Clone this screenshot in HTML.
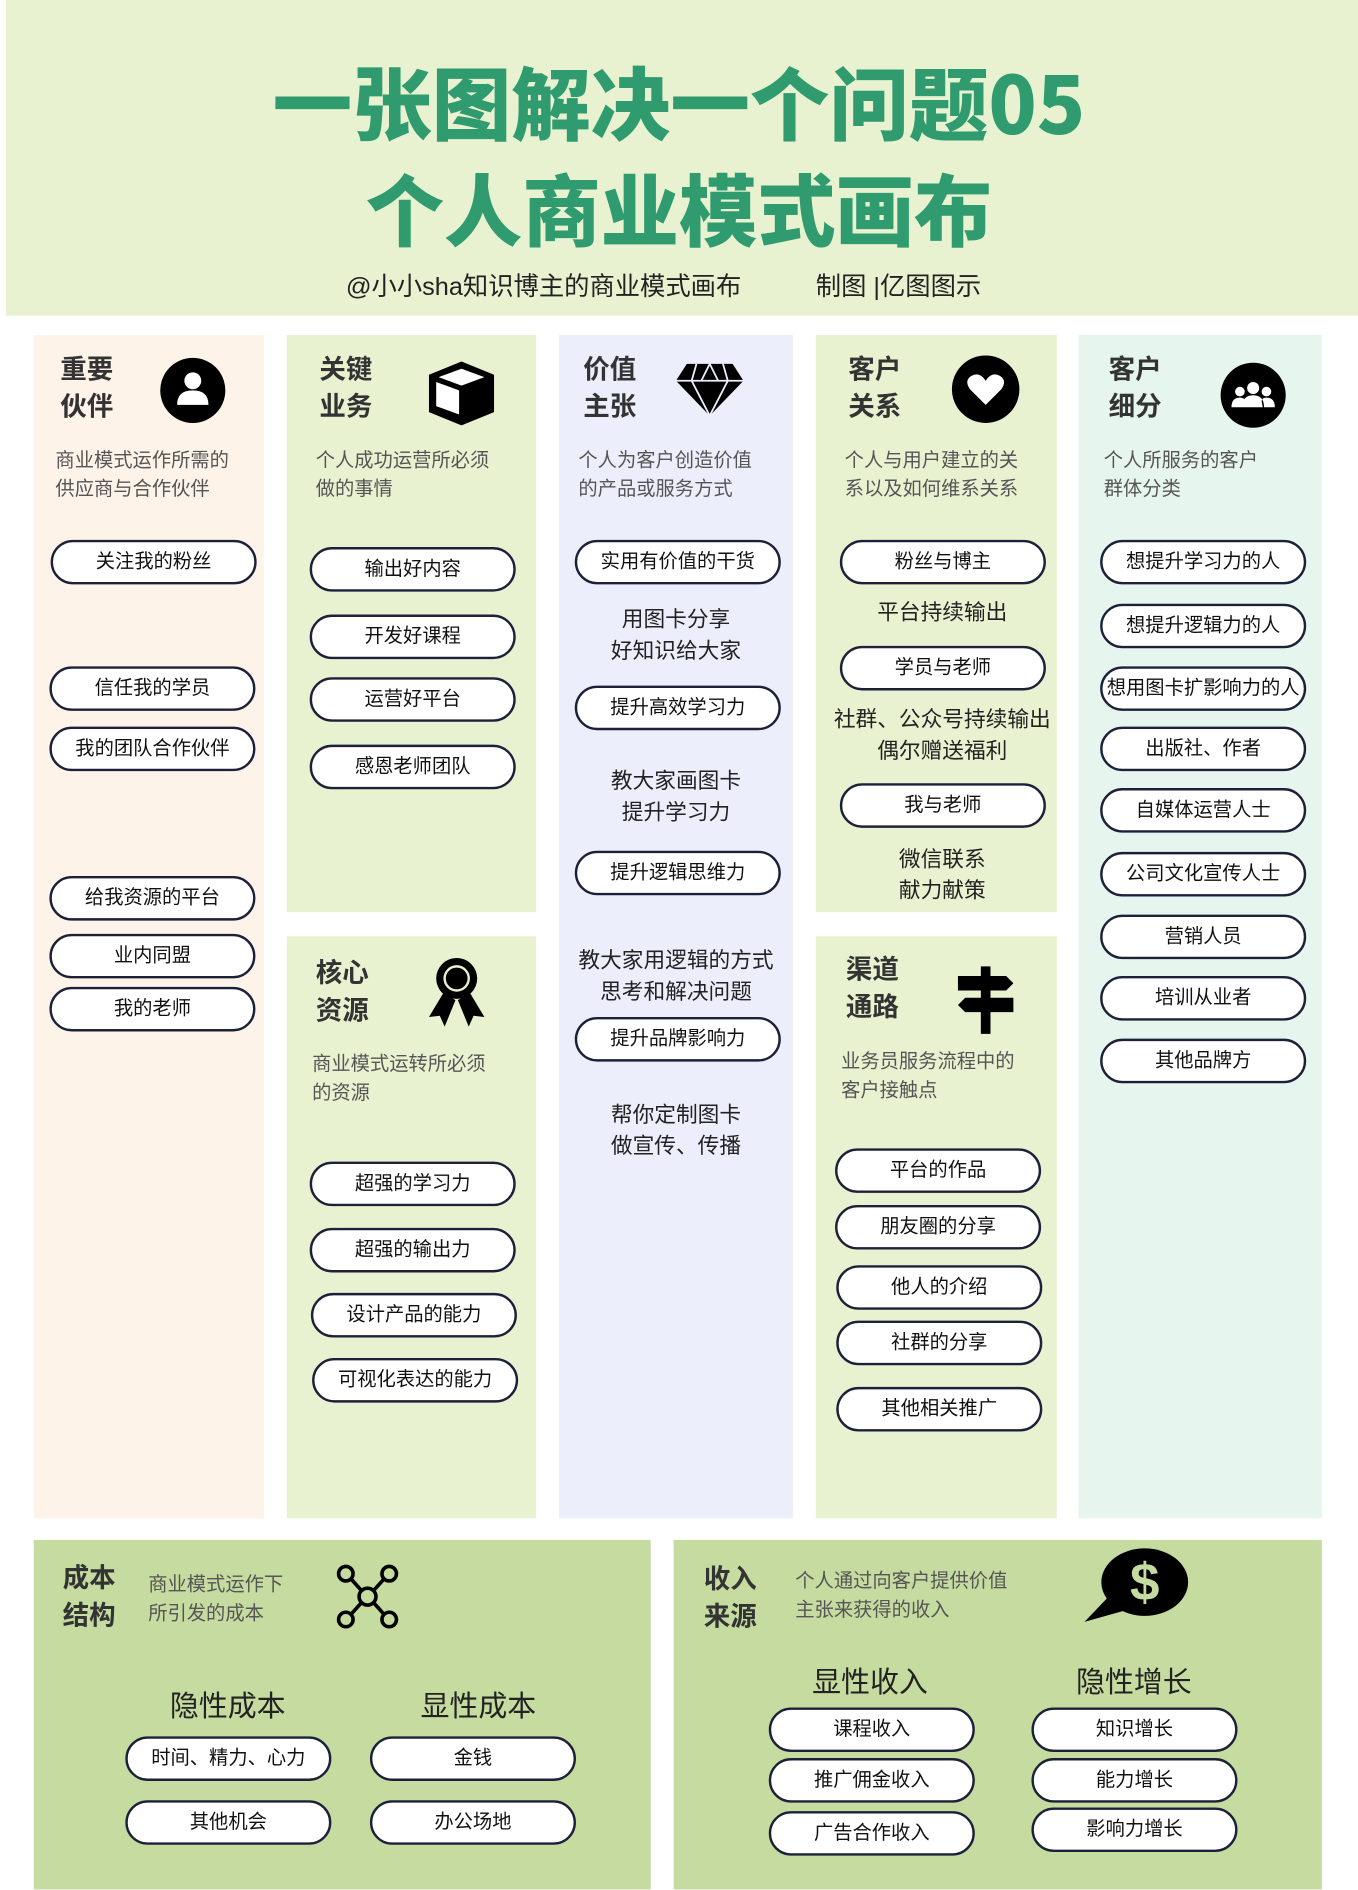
<!DOCTYPE html>
<html><head><meta charset="utf-8"><style>
*{margin:0;padding:0;box-sizing:border-box}
body{width:1358px;height:1890px;overflow:hidden;background:#fff;font-family:"Liberation Sans","Noto Sans CJK SC",sans-serif}
#w{position:absolute;left:0;top:0;width:1127px;height:1568px;transform:scale(1.20497);transform-origin:0 0}
.a{position:absolute}
.p{position:absolute;width:171px;height:37px;margin-top:-18px;border:2px solid #1c2038;border-radius:19px;background:#fff;text-align:center;line-height:33px;font-size:16px;color:#111;white-space:nowrap}
.t{position:absolute;font-size:18px;color:#222;text-align:center;line-height:26px;white-space:nowrap}
.h{position:absolute;font-size:22px;font-weight:bold;color:#333;line-height:31px}
.d{position:absolute;font-size:16px;color:#555;line-height:24px;white-space:nowrap}
.st{position:absolute;font-size:24px;color:#222;text-align:center;width:200px}
</style></head><body><div id="w">
<div class="a" style="left:5px;top:0;width:1122px;height:262px;background:#e8f2d0"></div>
<div class="a" style="left:0;top:40px;width:1127px;text-align:center;font-size:66px;font-weight:900;color:#2f9b6f;line-height:86px;font-family:'Noto Sans CJK SC',sans-serif">一张图解决一个问题05</div>
<div class="a" style="left:0;top:128px;width:1127px;text-align:center;font-size:65px;font-weight:900;color:#2f9b6f;line-height:86px;font-family:'Noto Sans CJK SC',sans-serif">个人商业模式画布</div>
<div class="a" style="left:287px;top:222px;font-size:21px;color:#222">@小小sha知识博主的商业模式画布</div>
<div class="a" style="left:677px;top:222px;font-size:21px;color:#222">制图 |亿图图示</div>

<div class="a" style="left:28px;top:278px;width:191px;height:982px;background:#fdf3e8"></div>
<div class="a" style="left:238px;top:278px;width:207px;height:479px;background:#e8f2d0"></div>
<div class="a" style="left:238px;top:777px;width:207px;height:483px;background:#e8f2d0"></div>
<div class="a" style="left:464px;top:278px;width:194px;height:982px;background:#eceefc"></div>
<div class="a" style="left:677px;top:278px;width:200px;height:479px;background:#e8f2d0"></div>
<div class="a" style="left:677px;top:777px;width:200px;height:483px;background:#e8f2d0"></div>
<div class="a" style="left:895px;top:278px;width:202px;height:982px;background:#e6f5ee"></div>
<div class="a" style="left:28px;top:1278px;width:512px;height:290px;background:#c5dba0"></div>
<div class="a" style="left:559px;top:1278px;width:538px;height:290px;background:#c5dba0"></div>

<div class="h" style="left:50px;top:291px">重要<br>伙伴</div>
<svg class="a" style="left:132px;top:296px" width="56" height="56"><circle cx="28" cy="28" r="27" fill="#000"/><circle cx="28" cy="20" r="7" fill="#fff"/><path d="M15 40 Q15 28 28 28 Q41 28 41 40 Z" fill="#fff"/></svg>
<div class="d" style="left:46px;top:371px">商业模式运作所需的<br>供应商与合作伙伴</div>

<div class="h" style="left:265px;top:291px">关键<br>业务</div>
<svg class="a" style="left:354px;top:298px" width="58" height="56"><polygon points="29,2 56,13 56,44 29,55 2,44 2,13" fill="#000"/><polygon points="29,8 48,15 29,22 10,15" fill="#fff"/><polygon points="8,19 27,26 27,46 8,39" fill="#fff"/></svg>
<div class="d" style="left:262px;top:371px">个人成功运营所必须<br>做的事情</div>

<div class="h" style="left:484px;top:291px">价值<br>主张</div>
<svg class="a" style="left:560px;top:300px" width="58" height="46"><polygon points="10,2 48,2 57,16 29,45 1,16" fill="#000"/><path d="M1 16 H57 M18 2 L14 16 L29 45 L44 16 L40 2 M29 2 L22 16 M29 2 L36 16" stroke="#eceefc" stroke-width="1.5" fill="none"/></svg>
<div class="d" style="left:480px;top:371px">个人为客户创造价值<br>的产品或服务方式</div>

<div class="h" style="left:704px;top:291px">客户<br>关系</div>
<svg class="a" style="left:789px;top:294px" width="58" height="58"><circle cx="29" cy="29" r="28" fill="#000"/><path d="M29 42 L16 29 Q11 22 17 18 Q24 14 29 22 Q34 14 41 18 Q47 22 42 29 Z" fill="#fff"/></svg>
<div class="d" style="left:701px;top:371px">个人与用户建立的关<br>系以及如何维系关系</div>

<div class="h" style="left:920px;top:291px">客户<br>细分</div>
<svg class="a" style="left:1012px;top:300px" width="56" height="56"><circle cx="28" cy="28" r="27" fill="#000"/><circle cx="28" cy="22" r="5" fill="#fff"/><circle cx="17" cy="25" r="4" fill="#fff"/><circle cx="39" cy="25" r="4" fill="#fff"/><path d="M19 38 Q19 28 28 28 Q37 28 37 38Z M10 38 Q10 30 17 30 Q21 30 21 33 L20 38Z M46 38 Q46 30 39 30 Q35 30 35 33 L36 38Z" fill="#fff"/></svg>
<div class="d" style="left:916px;top:371px">个人所服务的客户<br>群体分类</div>

<div class="h" style="left:262px;top:792px">核心<br>资源</div>
<svg class="a" style="left:352px;top:792px" width="54" height="62"><circle cx="27" cy="20" r="17" fill="#000"/><circle cx="27" cy="20" r="10" fill="none" stroke="#e8f2d0" stroke-width="2"/><polygon points="16,32 4,52 13,51 17,60 26,38" fill="#000"/><polygon points="38,32 50,52 41,51 37,60 28,38" fill="#000"/></svg>
<div class="d" style="left:259px;top:872px">商业模式运转所必须<br>的资源</div>

<div class="h" style="left:702px;top:789px">渠道<br>通路</div>
<svg class="a" style="left:793px;top:800px" width="50" height="60"><rect x="21" y="2" width="8" height="56" fill="#000"/><polygon points="2,10 42,10 48,16 42,22 2,22" fill="#000"/><polygon points="48,28 8,28 2,34 8,40 48,40" fill="#000"/></svg>
<div class="d" style="left:698px;top:870px">业务员服务流程中的<br>客户接触点</div>

<div class="p" style="left:42px;top:466px">关注我的粉丝</div>
<div class="p" style="left:41px;top:571px">信任我的学员</div>
<div class="p" style="left:41px;top:621px">我的团队合作伙伴</div>
<div class="p" style="left:41px;top:745px">给我资源的平台</div>
<div class="p" style="left:41px;top:793px">业内同盟</div>
<div class="p" style="left:41px;top:837px">我的老师</div>
<div class="p" style="left:257px;top:472px">输出好内容</div>
<div class="p" style="left:257px;top:528px">开发好课程</div>
<div class="p" style="left:257px;top:580px">运营好平台</div>
<div class="p" style="left:257px;top:636px">感恩老师团队</div>
<div class="p" style="left:257px;top:982px">超强的学习力</div>
<div class="p" style="left:257px;top:1037px">超强的输出力</div>
<div class="p" style="left:258px;top:1091px">设计产品的能力</div>
<div class="p" style="left:259px;top:1145px">可视化表达的能力</div>
<div class="p" style="left:477px;top:466px">实用有价值的干货</div>
<div class="t" style="left:464px;width:194px;top:501px">用图卡分享<br>好知识给大家</div>
<div class="p" style="left:477px;top:587px">提升高效学习力</div>
<div class="t" style="left:464px;width:194px;top:635px">教大家画图卡<br>提升学习力</div>
<div class="p" style="left:477px;top:724px">提升逻辑思维力</div>
<div class="t" style="left:464px;width:194px;top:784px">教大家用逻辑的方式<br>思考和解决问题</div>
<div class="p" style="left:477px;top:862px">提升品牌影响力</div>
<div class="t" style="left:464px;width:194px;top:912px">帮你定制图卡<br>做宣传、传播</div>
<div class="p" style="left:697px;top:466px">粉丝与博主</div>
<div class="t" style="left:677px;width:210px;top:495px">平台持续输出</div>
<div class="p" style="left:697px;top:554px">学员与老师</div>
<div class="t" style="left:677px;width:210px;top:584px">社群、公众号持续输出<br>偶尔赠送福利</div>
<div class="p" style="left:697px;top:668px">我与老师</div>
<div class="t" style="left:677px;width:210px;top:700px">微信联系<br>献力献策</div>
<div class="p" style="left:693px;top:971px">平台的作品</div>
<div class="p" style="left:693px;top:1018px">朋友圈的分享</div>
<div class="p" style="left:694px;top:1068px">他人的介绍</div>
<div class="p" style="left:694px;top:1114px">社群的分享</div>
<div class="p" style="left:694px;top:1169px">其他相关推广</div>
<div class="p" style="left:913px;top:466px">想提升学习力的人</div>
<div class="p" style="left:913px;top:519px">想提升逻辑力的人</div>
<div class="p" style="left:913px;top:571px">想用图卡扩影响力的人</div>
<div class="p" style="left:913px;top:621px">出版社、作者</div>
<div class="p" style="left:913px;top:672px">自媒体运营人士</div>
<div class="p" style="left:913px;top:725px">公司文化宣传人士</div>
<div class="p" style="left:913px;top:777px">营销人员</div>
<div class="p" style="left:913px;top:828px">培训从业者</div>
<div class="p" style="left:913px;top:880px">其他品牌方</div>

<div class="h" style="left:52px;top:1294px">成本<br>结构</div>
<div class="d" style="left:123px;top:1304px">商业模式运作下<br>所引发的成本</div>
<svg class="a" style="left:278px;top:1297px" width="54" height="56" fill="none" stroke="#000" stroke-width="3"><circle cx="27" cy="28" r="7"/><circle cx="9" cy="9" r="6"/><circle cx="45" cy="9" r="6"/><circle cx="9" cy="47" r="6"/><circle cx="45" cy="47" r="6"/><path d="M13 13 L22 23 M41 13 L32 23 M13 43 L22 33 M41 43 L32 33"/></svg>
<div class="st" style="left:89px;top:1396px">隐性成本</div>
<div class="st" style="left:297px;top:1396px">显性成本</div>
<div class="p" style="left:104px;top:1459px">时间、精力、心力</div>
<div class="p" style="left:104px;top:1512px">其他机会</div>
<div class="p" style="left:307px;top:1459px">金钱</div>
<div class="p" style="left:307px;top:1512px">办公场地</div>
<div class="h" style="left:584px;top:1295px">收入<br>来源</div>
<div class="d" style="left:660px;top:1301px">个人通过向客户提供价值<br>主张来获得的收入</div>
<svg class="a" style="left:898px;top:1283px" width="90" height="64"><ellipse cx="52" cy="30" rx="36" ry="28" fill="#000"/><polygon points="24,40 2,63 34,54" fill="#000"/><text x="52" y="45" text-anchor="middle" font-size="44" font-weight="900" fill="#c5dba0" font-family="Liberation Sans">$</text></svg>
<div class="st" style="left:622px;top:1376px">显性收入</div>
<div class="st" style="left:841px;top:1376px">隐性增长</div>
<div class="p" style="left:638px;top:1435px">课程收入</div>
<div class="p" style="left:638px;top:1477px">推广佣金收入</div>
<div class="p" style="left:638px;top:1521px">广告合作收入</div>
<div class="p" style="left:856px;top:1435px">知识增长</div>
<div class="p" style="left:856px;top:1477px">能力增长</div>
<div class="p" style="left:856px;top:1518px">影响力增长</div>
</div></body></html>
